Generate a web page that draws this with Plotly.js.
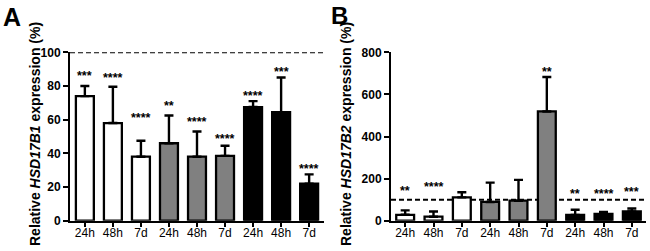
<!DOCTYPE html>
<html>
<head>
<meta charset="utf-8">
<script src="https://cdn.plot.ly/plotly-3.0.1.min.js"></script>
<style>html,body{margin:0;padding:0;background:#fff;}#chart{width:650px;height:251px;}</style>
</head>
<body>
<div id="chart"></div>
<script>
// ---- data ----
const tickLabels = ["24h","48h","7d","24h","48h","7d","24h","48h","7d"];
const groupColors = ["#ffffff","#ffffff","#ffffff","#808080","#808080","#808080","#000000","#000000","#000000"];

const valuesA = [74, 58, 38, 46, 38, 38.5, 67.5, 64.5, 22];
const errorsA = [6, 21.5, 9.5, 16.5, 15, 6, 3.5, 20.5, 5.5];
const starsA  = ["***","****","****","**","****","****","****","***","****"];
const starYA  = [87.5, 86.5, 63, 69.7, 60.6, 50.5, 76, 89.9, 32.5];

const valuesB = [28, 19, 111, 89, 95, 519, 27, 32, 44];
const errorsB = [21, 25, 24, 92, 99, 164, 25, 10, 14];
const starsB  = ["**","****","","","","**","**","****","***"];
const starYB  = [154, 173, null, null, null, 721, 143, 143, 152];

const refA = 100, refB = 100;
const yTicksA = [0,20,40,60,80,100];
const yTicksB = [0,200,400,600,800];

// ---- build ----
const xIdx = tickLabels.map((_, i) => i);
const FONT = "Liberation Sans, Arial, Helvetica, sans-serif";
const W = 650, H = 251;

function barTrace(vals, errs, xa, ya, width) {
  return {
    type: "bar", x: xIdx, y: vals, xaxis: xa, yaxis: ya, width: width,
    marker: {color: groupColors, line: {color: "#000", width: 2.3}},
    error_y: {type: "data", symmetric: false, array: errs, arrayminus: errs.map(() => 0),
              color: "#000", thickness: 2.4, width: 4.5},
    hoverinfo: "none", showlegend: false
  };
}

const data = [
  barTrace(valuesA, errorsA, "x", "y", 0.64),
  barTrace(valuesB, errorsB, "x2", "y2", 0.63)
];

const yDom = [1 - 220.7 / H, 1 - 52.3 / H];
const axCommon = {
  showline: true, linecolor: "#000", linewidth: 2, showgrid: false, zeroline: false,
  ticks: "outside", tickcolor: "#000", fixedrange: true
};

const annotations = [];
function addStars(stars, ys, xr, yr) {
  stars.forEach((s, i) => {
    if (!s) return;
    annotations.push({xref: xr, yref: yr, x: i, y: ys[i], text: s, showarrow: false,
      yanchor: "middle", yshift: -3,
      font: {family: FONT, size: 12.5, color: "#000", weight: 700}});
  });
}
addStars(starsA, starYA, "x", "y");
addStars(starsB, starYB, "x2", "y2");

annotations.push({xref: "paper", yref: "paper", x: 35 / W, y: 1 - 134 / H, textangle: -90,
  text: "Relative <i>HSD17B1</i> expression (%)", showarrow: false, xanchor: "center", yanchor: "middle",
  font: {family: FONT, size: 14, color: "#000", weight: 700}});
annotations.push({xref: "paper", yref: "paper", x: 346 / W, y: 1 - 134 / H, textangle: -90,
  text: "Relative <i>HSD17B2</i> expression (%)", showarrow: false, xanchor: "center", yanchor: "middle",
  font: {family: FONT, size: 14, color: "#000", weight: 700}});
annotations.push({xref: "paper", yref: "paper", x: 1 / W, y: 1 - 1 / H, text: "A", showarrow: false,
  xanchor: "left", yanchor: "top", font: {family: FONT, size: 25, color: "#000", weight: 700}});
annotations.push({xref: "paper", yref: "paper", x: 329 / W, y: 1 - 0 / H, text: "B", showarrow: false,
  xanchor: "left", yanchor: "top", font: {family: FONT, size: 24, color: "#000", weight: 700}});

const layout = {
  width: W, height: H, margin: {l: 0, r: 0, t: 0, b: 0},
  paper_bgcolor: "#fff", plot_bgcolor: "#fff",
  font: {family: FONT, color: "#000"},
  bargap: 0.36,
  xaxis: Object.assign({}, axCommon, {domain: [70 / W, 324 / W], range: [-0.53, 8.53],
    tickvals: xIdx, ticktext: tickLabels, ticklen: 4, tickwidth: 2, ticklabelstandoff: -4,
    tickfont: {family: FONT, size: 12, color: "#000"}, anchor: "y"}),
  yaxis: Object.assign({}, axCommon, {domain: yDom, range: [0, 100], tickvals: yTicksA,
    ticklen: 5, tickwidth: 2, tickfont: {family: FONT, size: 12, color: "#000", weight: 700}, anchor: "x"}),
  xaxis2: Object.assign({}, axCommon, {domain: [391 / W, 646 / W], range: [-0.5, 8.5],
    tickvals: xIdx, ticktext: tickLabels, ticklen: 4, tickwidth: 2, ticklabelstandoff: -4,
    tickfont: {family: FONT, size: 12, color: "#000"}, anchor: "y2"}),
  yaxis2: Object.assign({}, axCommon, {domain: yDom, range: [0, 800], tickvals: yTicksB,
    ticklen: 5, tickwidth: 2, tickfont: {family: FONT, size: 12, color: "#000", weight: 700}, anchor: "x2"}),
  shapes: [
    {type: "line", xref: "x", yref: "y", x0: -0.53, x1: 8.67, y0: refA, y1: refA,
     line: {color: "#000", width: 2, dash: "5px,3px"}, layer: "below"},
    {type: "line", xref: "x2", yref: "y2", x0: -0.5, x1: 8.5, y0: refB, y1: refB,
     line: {color: "#000", width: 2, dash: "5px,3px"}, layer: "below"}
  ],
  annotations: annotations
};

Plotly.newPlot("chart", data, layout, {staticPlot: true, displayModeBar: false});
</script>
</body>
</html>
